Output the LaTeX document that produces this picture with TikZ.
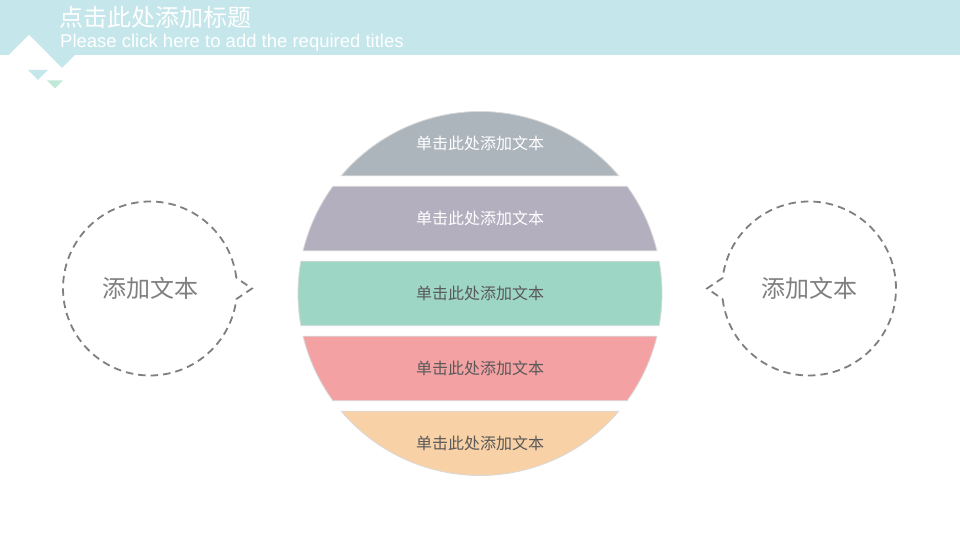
\documentclass[tikz,border=0pt]{standalone}
\usepackage{fontspec}
\setmainfont{Liberation Sans}
\newfontfamily\cjk{Noto Sans CJK SC}
\usetikzlibrary{calc}
\definecolor{hdr}{HTML}{C5E6EA}
\definecolor{mint}{HTML}{C2E8D8}
\definecolor{bandA}{HTML}{ACB4BC}
\definecolor{bandB}{HTML}{B3AFBF}
\definecolor{bandC}{HTML}{9ED6C5}
\definecolor{bandD}{HTML}{F3A1A3}
\definecolor{bandE}{HTML}{F9D1A6}
\definecolor{bandedge}{HTML}{D9D9D9}
\definecolor{darktext}{HTML}{595959}
\definecolor{graytext}{HTML}{7F7F7F}
\newcommand\myband[3]{%
  \pgfmathsetmacro\angA{asin(#1/182)}%
  \pgfmathsetmacro\angB{asin(#2/182)}%
  \path[bandshape, fill=#3] ($(C)+(180-\angB:182pt)$)
    arc[start angle=180-\angB, end angle=180-\angA, radius=182pt]
    -- ($(C)+(\angA:182pt)$)
    arc[start angle=\angA, end angle=\angB, radius=182pt] -- cycle;%
}
\begin{document}
\begin{tikzpicture}[x=1pt,y=1pt,
  bandshape/.style={draw=bandedge, line width=0.8pt},
  bandtext/.style={font=\cjk\fontsize{16pt}{19pt}\selectfont, inner sep=0pt, anchor=center},
  bubbletext/.style={font=\cjk\fontsize{24pt}{28pt}\selectfont, inner sep=0pt, text=graytext},
  dashline/.style={draw=graytext, line width=1.8pt, dash pattern=on 7.5pt off 5pt}]
\useasboundingbox (0,0) rectangle (960,540);
\fill[white] (0,0) rectangle (960,540);
% header
\fill[hdr] (0,485) rectangle (960,540);
\fill[hdr] (49,485) -- (75,485) -- (62,472) -- cycle;
\fill[white] (9,485) -- (29,505) -- (49,485) -- cycle;
\fill[hdr] (28,470) -- (48,470) -- (38,460) -- cycle;
\fill[mint] (47,459.5) -- (63,459.5) -- (55,451.5) -- cycle;
\node[anchor=west, inner sep=0pt, text=white, font=\cjk\fontsize{24pt}{28pt}\selectfont] (title) at (59,522.5) {点击此处添加标题};
\node[anchor=base west, inner sep=0pt, text=white, font=\fontsize{18.5pt}{21pt}\selectfont] (subtitle) at (60,492.3) {Please click here to add the required titles};
% bands
\coordinate (C) at (480,246.5);
\myband{117.75}{182}{bandA}
\myband{42.75}{107.25}{bandB}
\myband{-32.25}{32.25}{bandC}
\myband{-107.25}{-42.75}{bandD}
\myband{-182}{-117.75}{bandE}
\node[bandtext, text=white] (t1) at (480,396.4) {单击此处添加文本};
\node[bandtext, text=white] (t2) at (480,321.5) {单击此处添加文本};
\node[bandtext, text=darktext] (t3) at (480,246.5) {单击此处添加文本};
\node[bandtext, text=darktext] (t4) at (480,171.5) {单击此处添加文本};
\node[bandtext, text=darktext] (t5) at (480,96.6) {单击此处添加文本};
% bubbles
\coordinate (L) at (150,251.5);
\coordinate (R) at (809,251.5);
\path[dashline] ($(L)+(7:87pt)$) arc[start angle=7, end angle=353, radius=87pt] -- ($(L)+(102pt,0)$) -- cycle;
\path[dashline] ($(R)+(187:87pt)$) arc[start angle=187, end angle=533, radius=87pt] -- ($(R)+(-102pt,0)$) -- cycle;
\node[bubbletext] (lt) at (L) {添加文本};
\node[bubbletext] (rt) at (R) {添加文本};
\end{tikzpicture}
\end{document}
